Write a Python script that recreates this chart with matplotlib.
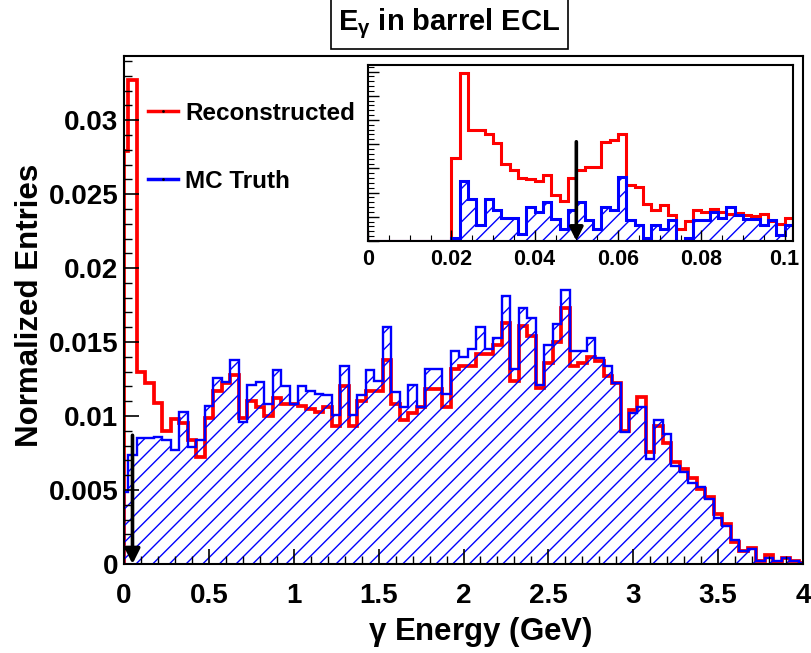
import numpy as np
import matplotlib
matplotlib.use("Agg")
import matplotlib.pyplot as plt
from matplotlib.lines import Line2D
from matplotlib.ticker import MultipleLocator, NullFormatter

plt.rcParams['font.family'] = ['Liberation Sans', 'DejaVu Sans']
plt.rcParams['font.weight'] = 'bold'
plt.rcParams['mathtext.fontset'] = 'custom'
plt.rcParams['mathtext.rm'] = 'Liberation Sans:bold'
plt.rcParams['mathtext.it'] = 'Liberation Sans:bold'
plt.rcParams['hatch.linewidth'] = 1.0
plt.rcParams['hatch.color'] = 'blue'

# -----------------------------
# main histogram, 0.05 GeV bins centred on multiples of 0.05
# -----------------------------
bin_width = 0.05
e_max = 4.0
mc_truth = [
    0.0049, 0.0074, 0.0085, 0.0085, 0.0086, 0.0084, 0.0077, 0.0103, 0.0079, 0.0084,
    0.0107, 0.0126, 0.0123, 0.0138, 0.0096, 0.0121, 0.0123, 0.0108, 0.0131, 0.0120,
    0.0108, 0.0120, 0.0117, 0.0115, 0.0114, 0.0101, 0.0134, 0.0101, 0.0114, 0.0131,
    0.0124, 0.0160, 0.0116, 0.0106, 0.0121, 0.0106, 0.0132, 0.0132, 0.0115, 0.0144,
    0.0140, 0.0145, 0.0160, 0.0145, 0.0153, 0.0181, 0.0132, 0.0173, 0.0166, 0.0121,
    0.0148, 0.0162, 0.0185, 0.0144, 0.0144, 0.0153, 0.0139, 0.0134, 0.0122, 0.0089,
    0.0102, 0.0106, 0.0071, 0.0097, 0.0088, 0.0066, 0.0062, 0.0055, 0.0052, 0.0044,
    0.0031, 0.0026, 0.0016, 0.0009, 0.0010, 0.0002, 0.0004, 0.0002, 0.0004, 0.0002,
    0.0001,
]
reconstructed = [
    0.0279, 0.0327, 0.0130, 0.0122, 0.0109, 0.0090, 0.0098, 0.0095, 0.0084, 0.0072,
    0.0099, 0.0117, 0.0122, 0.0128, 0.0099, 0.0110, 0.0106, 0.0100, 0.0112, 0.0108,
    0.0108, 0.0107, 0.0105, 0.0103, 0.0106, 0.0093, 0.0120, 0.0093, 0.0110, 0.0117,
    0.0117, 0.0138, 0.0108, 0.0097, 0.0102, 0.0106, 0.0118, 0.0118, 0.0106, 0.0132,
    0.0134, 0.0134, 0.0142, 0.0142, 0.0148, 0.0163, 0.0124, 0.0161, 0.0154, 0.0119,
    0.0136, 0.0150, 0.0173, 0.0134, 0.0136, 0.0140, 0.0137, 0.0127, 0.0122, 0.0090,
    0.0104, 0.0113, 0.0076, 0.0093, 0.0082, 0.0069, 0.0064, 0.0058, 0.0051, 0.0045,
    0.0034, 0.0027, 0.0015, 0.0009, 0.0011, 0.0002, 0.0006, 0.0001, 0.0004, 0.0002,
    0.0001,
]
cut_energy = 0.05

# zoomed histogram, 0.002 GeV bins from 0 to 0.102 (units of 1e-3)
fine_width = 0.002
fine_reco = [
    0, 0, 0, 0, 0, 0, 0, 0, 0, 0,
    3.43, 6.92, 4.58, 4.58, 4.44, 4.03, 3.20, 2.92, 2.61, 2.55,
    2.47, 2.72, 1.92, 1.65, 2.61, 2.92, 3.06, 3.06, 4.07, 4.17,
    4.41, 2.30, 2.23, 1.54, 1.30, 1.50, 1.09, 0.48, 0.83, 1.27,
    1.20, 1.34, 1.20, 1.13, 1.17, 1.09, 1.03, 1.13, 0.81, 0.72,
    0.95,
]
fine_truth = [
    0, 0, 0, 0, 0, 0, 0, 0, 0, 0,
    0.12, 2.46, 1.74, 0.65, 1.74, 1.27, 0.95, 0.95, 0.28, 1.39,
    1.19, 1.61, 0.92, 0.48, 1.27, 1.61, 0.85, 0.48, 1.39, 1.27,
    2.65, 0.85, 0.68, 0.12, 0.68, 0.48, 0.85, 0.00, 0.12, 0.85,
    0.85, 1.19, 0.95, 1.39, 1.06, 0.92, 0.92, 0.65, 0.85, 0.23,
    0.68,
]
fine_scale = 1e-3

red = '#ff0000'
blue = '#0000ff'

mc_truth = np.array(mc_truth)
reconstructed = np.array(reconstructed)
n_bins = len(mc_truth)
edges = np.concatenate(([0.0], bin_width / 2 + bin_width * np.arange(n_bins - 1), [e_max]))

fine_reco = np.array(fine_reco) * fine_scale
fine_truth = np.array(fine_truth) * fine_scale
fine_edges = fine_width * np.arange(len(fine_reco) + 1)

fig = plt.figure(figsize=(8.11, 6.53), dpi=100)
ax = fig.add_axes([124 / 811, 89 / 653, 679 / 811, 508 / 653])

ax.stairs(reconstructed, edges, color=red, linewidth=2.7)
ax.stairs(mc_truth, edges, fill=True, hatch='//', facecolor='none',
          edgecolor=blue, linewidth=0)
ax.stairs(mc_truth, edges, color=blue, linewidth=1.7)

ax.annotate('', xy=(cut_energy, 0), xytext=(cut_energy, 0.0087),
            arrowprops=dict(arrowstyle='-|>,head_width=0.45,head_length=0.9',
                            color='black', lw=2.6, shrinkA=0, shrinkB=0))

ax.set_xlim(0, e_max)
ax.set_ylim(0, 1.05 * reconstructed.max())
ax.xaxis.set_major_locator(MultipleLocator(0.5))
ax.xaxis.set_minor_locator(MultipleLocator(0.1))
ax.yaxis.set_major_locator(MultipleLocator(0.005))
ax.yaxis.set_minor_locator(MultipleLocator(0.001))
ax.xaxis.set_major_formatter(lambda v, p: f'{v:g}')
ax.yaxis.set_major_formatter(lambda v, p: f'{v:g}')
ax.tick_params(which='both', direction='in', top=False, right=False)
ax.tick_params(which='major', length=11, width=1.2, labelsize=20)
ax.tick_params(which='minor', length=6, width=1.0)
ax.tick_params(axis='x', pad=14)
ax.tick_params(axis='y', pad=4)
for s in ax.spines.values():
    s.set_linewidth(1.5)

fig.text(480 / 811, 1 - 632 / 653, r'$\gamma$ Energy (GeV)', ha='center', va='center',
         fontsize=22.5, fontweight='bold')
fig.text(30 / 811, 1 - 305 / 653, 'Normalized Entries', ha='center', va='center',
         rotation=90, fontsize=22.5, fontweight='bold')
fig.text(449.5 / 811, 1 - 24 / 653, r'E$_{\gamma}$ in barrel ECL', ha='center', va='center',
         fontsize=21, fontweight='bold',
         bbox=dict(boxstyle='square,pad=0.25', facecolor='white', edgecolor='black', lw=1.2))

handles = [Line2D([], [], color=red, lw=2.5, marker='.', markersize=2,
                  markerfacecolor='black', markeredgecolor='black'),
           Line2D([], [], color=blue, lw=2.5, marker='.', markersize=2,
                  markerfacecolor='black', markeredgecolor='black')]
ax.legend(handles, ['Reconstructed', 'MC Truth'], loc='upper left',
          bbox_to_anchor=(0.0353, 0.91), frameon=False, fontsize=17.5,
          handlelength=1.23, handletextpad=0.3, labelspacing=1.85,
          borderpad=0, borderaxespad=0)

# -----------------------------
# inset: low-energy region
# -----------------------------
ins = fig.add_axes([368 / 811, (653 - 241) / 653, 425 / 811, 176 / 653])
ins.stairs(fine_reco, fine_edges, color=red, linewidth=2.2)
ins.stairs(fine_truth, fine_edges, fill=True, hatch='//', facecolor='none',
           edgecolor=blue, linewidth=0)
ins.stairs(fine_truth, fine_edges, color=blue, linewidth=2.2)
ins.annotate('', xy=(cut_energy, 0), xytext=(cut_energy, 0.0041),
             arrowprops=dict(arrowstyle='-|>,head_width=0.4,head_length=0.8',
                             color='black', lw=2.6, shrinkA=0, shrinkB=0))
ins.set_xlim(0, fine_edges[-1])
ins.set_ylim(0, 0.00727)
ins.xaxis.set_major_locator(MultipleLocator(0.02))
ins.xaxis.set_minor_locator(MultipleLocator(0.005))
ins.yaxis.set_major_locator(MultipleLocator(0.001))
ins.yaxis.set_minor_locator(MultipleLocator(0.0002))
ins.xaxis.set_major_formatter(lambda v, p: f'{v:g}')
ins.yaxis.set_major_formatter(NullFormatter())
ins.tick_params(which='both', direction='in', top=False, right=False)
ins.tick_params(which='major', length=8, width=1.0, labelsize=15.5, pad=6)
ins.tick_params(which='minor', length=4, width=0.8)
for s in ins.spines.values():
    s.set_linewidth(1.5)

fig.savefig('out.png', dpi=100)
